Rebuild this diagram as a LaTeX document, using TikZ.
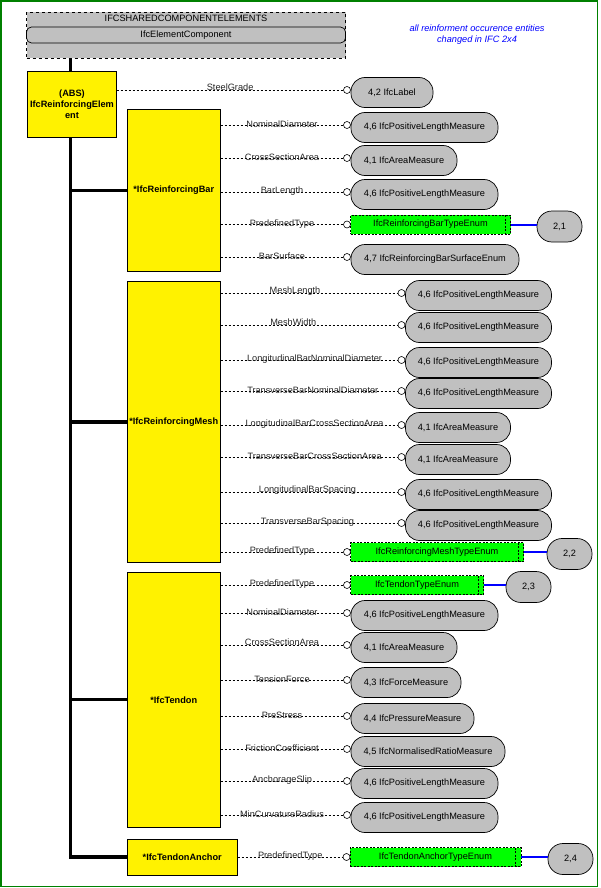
\documentclass[tikz,border=0pt]{standalone}
\usepackage{fontspec}
\setmainfont{Liberation Sans}
\definecolor{boxgray}{RGB}{192,192,192}
\definecolor{enumgreen}{RGB}{0,255,0}
\definecolor{framegreen}{RGB}{0,128,0}
\definecolor{noteblue}{RGB}{0,0,255}
\tikzset{
  ybox/.style={draw, fill=yellow, line width=0.8pt, inner sep=0pt, outer sep=0pt, align=center,
    font=\fontsize{9.2}{11}\selectfont\bfseries, anchor=north west},
  pill/.style={draw, fill=boxgray, line width=0.7pt, rounded corners=14pt, minimum height=30pt,
    inner sep=0pt, outer sep=0pt},
  numpill/.style={draw, fill=boxgray, line width=0.7pt, rounded corners=15pt, minimum height=31pt,
    minimum width=45pt, inner sep=0pt, outer sep=0pt},
  enumbox/.style={draw, fill=enumgreen, line width=0.6pt, dash pattern=on 2pt off 1.5pt,
    minimum height=19pt, inner sep=0pt, outer sep=0pt},
  innerdash/.style={line width=0.6pt, dash pattern=on 2pt off 1.5pt},
  dot/.style={circle, draw, fill=white, line width=0.6pt, minimum size=7pt, inner sep=0pt, outer sep=0pt},
  attr/.style={line width=0.6pt, dash pattern=on 2.5pt off 1.5pt},
  lbl/.style={text=black!85, inner sep=0pt, yshift=0.8pt, pos=0.5},
  spine/.style={line width=3.2pt},
  bluelink/.style={draw=noteblue, line width=2pt},
  groupbox/.style={draw, dashed, fill=boxgray, line width=0.6pt, inner sep=0pt, outer sep=0pt, anchor=north west},
  compbar/.style={draw, fill=boxgray, line width=0.7pt, rounded corners=5pt, inner sep=0pt, outer sep=0pt, anchor=north west},
}
% #1 id, #2 source, #3 y, #4 circle x, #5 label options, #6 label, #7 pill width, #8 pill text
\newcommand{\attrrow}[8]{%
  \node[dot] (c#1) at (#4,#3) {};
  \node[pill, minimum width=#7, anchor=west] (p#1) at ([xshift=0.5pt,yshift=-2.5pt]c#1.east) {#8};
  \draw[attr] (#2.east |- c#1) -- node[lbl,#5] {#6} (c#1.west);
}
% #1 id, #2 source, #3 y, #4 circle x, #5 label options, #6 enum width, #7 enum text, #8 pill x, #9 pill text
\newcommand{\enumrow}[9]{%
  \node[dot] (c#1) at (#4,#3) {};
  \node[enumbox, minimum width=#6, anchor=west] (e#1) at ([xshift=0pt]c#1.east) {#7};
  \draw[innerdash] ([xshift=-5.5pt]e#1.north east) -- ([xshift=-5.5pt]e#1.south east);
  \node[numpill, anchor=west] (n#1) at (#8,#3+2) {#9};
  \draw[bluelink] (e#1.east) -- (n#1.west |- e#1.east);
  \draw[attr] (#2.east |- c#1) -- node[lbl,#5] {PredefinedType} (c#1.west);
}
\begin{document}
\begin{tikzpicture}[x=1pt,y=-1pt,font=\fontsize{9.2}{11}\selectfont]
\useasboundingbox (0,0) rectangle (600,888);
\draw[draw=framegreen, line width=1.6pt] (1,1) rectangle (597.5,886.5);

% group box
\node[groupbox, minimum width=319pt, minimum height=46pt] (top) at (26.5,12.5) {};
\node (title) at (186,18.5) {IFCSHAREDCOMPONENTELEMENTS};
\node[compbar, minimum width=319pt, minimum height=16pt] (comp) at (26.5,27) {IfcElementComponent};

% note
\node[text=noteblue, font=\fontsize{9.2}{11}\selectfont\itshape, align=center] (note) at (477,34.5)
  {all reinforment occurence entities\\changed in IFC 2x4};

% entity boxes
\node[ybox, minimum width=89.4pt, minimum height=65.6pt] (abs) at (27.3,71.7)
  {(ABS)\\IfcReinforcingElem\\ent};
\node[ybox, minimum width=93.5pt, minimum height=162.4pt] (bar) at (127,109.3) {*IfcReinforcingBar};
\node[ybox, minimum width=93.5pt, minimum height=280.6pt] (mesh) at (127,281.7) {*IfcReinforcingMesh};
\node[ybox, minimum width=93.5pt, minimum height=254.3pt] (tendon) at (127,572.7) {*IfcTendon};
\node[ybox, minimum width=110.5pt, minimum height=36pt] (anchor) at (127,839) {*IfcTendonAnchor};

% inheritance spine
\coordinate (sx) at (70.3,0);
\draw[spine] (top.south -| sx) -- (abs.north -| sx);
\draw[spine] (abs.south -| sx) -- (sx |- anchor.west) -- (anchor.west);
\draw[spine] (sx |- bar.west) -- (bar.west);
\draw[spine] (sx |- mesh.west) -- (mesh.west);
\draw[spine] (sx |- tendon.west) -- (tendon.west);

% attributes
\attrrow{sg}{abs}{90}{347}{yshift=1.5pt}{SteelGrade}{82}{4,2 IfcLabel}

\attrrow{b1}{bar}{125}{347}{}{NominalDiameter}{147}{4,6 IfcPositiveLengthMeasure}
\attrrow{b2}{bar}{158}{347}{}{CrossSectionArea}{106}{4,1 IfcAreaMeasure}
\attrrow{b3}{bar}{192}{347}{}{BarLength}{147}{4,6 IfcPositiveLengthMeasure}
\enumrow{b4}{bar}{224.5}{347}{}{160}{IfcReinforcingBarTypeEnum}{537}{2,1}
\attrrow{b5}{bar}{257}{347}{}{BarSurface}{168}{4,7 IfcReinforcingBarSurfaceEnum}

\attrrow{m1}{mesh}{293}{401.5}{pos=0.42,yshift=1.5pt}{MeshLength}{146}{4,6 IfcPositiveLengthMeasure}
\attrrow{m2}{mesh}{325}{401.5}{pos=0.41,yshift=1.5pt}{MeshWidth}{146}{4,6 IfcPositiveLengthMeasure}
\attrrow{m3}{mesh}{360}{401.5}{pos=0.53}{LongitudinalBarNominalDiameter}{146}{4,6 IfcPositiveLengthMeasure}
\attrrow{m4}{mesh}{391}{401.5}{pos=0.52}{TransverseBarNominalDiameter}{146}{4,6 IfcPositiveLengthMeasure}
\attrrow{m5}{mesh}{425}{401.5}{pos=0.53}{LongitudinalBarCrossSectionArea}{105}{4,1 IfcAreaMeasure}
\attrrow{m6}{mesh}{457}{401.5}{pos=0.53}{TransverseBarCrossSectionArea}{105}{4,1 IfcAreaMeasure}
\attrrow{m7}{mesh}{492}{401.5}{pos=0.49,yshift=1.5pt}{LongitudinalBarSpacing}{146}{4,6 IfcPositiveLengthMeasure}
\attrrow{m8}{mesh}{523}{401.5}{pos=0.49}{TransverseBarSpacing}{146}{4,6 IfcPositiveLengthMeasure}
\enumrow{m9}{mesh}{552}{347}{}{173}{IfcReinforcingMeshTypeEnum}{547}{2,2}

\enumrow{t0}{tendon}{585}{347}{}{133}{IfcTendonTypeEnum}{506}{2,3}
\attrrow{t1}{tendon}{613}{347}{}{NominalDiameter}{147}{4,6 IfcPositiveLengthMeasure}
\attrrow{t2}{tendon}{645}{347}{yshift=1.5pt}{CrossSectionArea}{106}{4,1 IfcAreaMeasure}
\attrrow{t3}{tendon}{680}{347}{}{TensionForce}{110}{4,3 IfcForceMeasure}
\attrrow{t4}{tendon}{716}{347}{}{PreStress}{123}{4,4 IfcPressureMeasure}
\attrrow{t5}{tendon}{749}{347}{}{FrictionCoefficient}{154}{4,5 IfcNormalisedRatioMeasure}
\attrrow{t6}{tendon}{781}{347}{}{AnchorageSlip}{147}{4,6 IfcPositiveLengthMeasure}
\attrrow{t7}{tendon}{815}{347}{}{MinCurvatureRadius}{147}{4,6 IfcPositiveLengthMeasure}

\enumrow{a1}{anchor}{857}{346.5}{}{171}{IfcTendonAnchorTypeEnum}{548}{2,4}
\end{tikzpicture}
\end{document}
